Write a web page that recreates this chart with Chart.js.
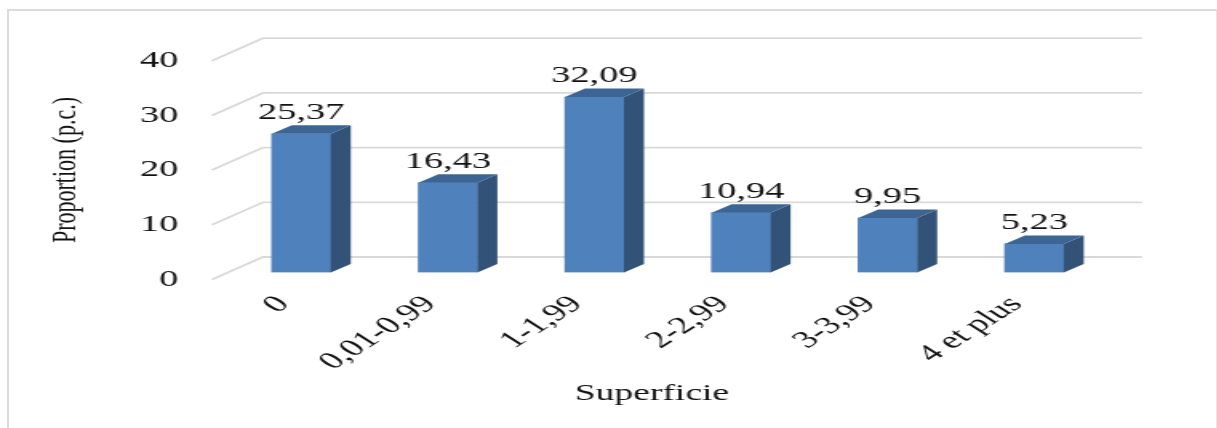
<!DOCTYPE html>
<html>
<head>
<meta charset="utf-8">
<script src="https://cdn.jsdelivr.net/npm/chart.js@4"></script>
<style>
  html, body { margin: 0; padding: 0; background: #fff; overflow: hidden; }
  #frame { position: absolute; left: 7px; top: 9px; width: 1207px; height: 440px; border: 2px solid #dcdcdc; border-right: 1px solid #e6e6e6; }
  /* the original picture is stretched sideways, text included */
  #wrap { position: absolute; left: 0; top: 0; width: 761px; height: 428px; transform-origin: 0 0; transform: scale(1.6, 1); }
</style>
</head>
<body>
<div id="frame"></div>
<div id="wrap"><canvas id="chart" width="761" height="428"></canvas></div>
<script>
const categories = ['0', '0,01-0,99', '1-1,99', '2-2,99', '3-3,99', '4 et plus'];
const proportions = [25.37, 16.43, 32.09, 10.94, 9.95, 5.23];
const yTicks = [0, 10, 20, 30, 40];
const yTitle = 'Proportion (p.c.)';
const xTitle = 'Superficie';

const stretch = 1.6;
const serif = '"Liberation Serif", serif';
const textColor = '#111111';

// Fake 3D: side and top faces, back wall grid, value labels
const fake3d = {
  id: 'fake3d',
  beforeDatasetsDraw(chart) {
    const { ctx, scales: { y } } = chart;
    ctx.save();
    ctx.strokeStyle = '#d9d9d9';
    ctx.lineWidth = 1.8;
    yTicks.forEach(v => {
      const py = y.getPixelForValue(v);
      ctx.beginPath();
      ctx.moveTo(212 / stretch, py + 7);
      ctx.lineTo(263 / stretch, py - 15.5);
      ctx.lineTo(1142 / stretch, py - 15.5);
      ctx.stroke();
    });
    ctx.restore();
  },
  afterDatasetsDraw(chart) {
    const { ctx } = chart;
    const dx = 20 / stretch, dy = 8.5;
    ctx.save();
    chart.getDatasetMeta(0).data.forEach((bar, i) => {
      const half = bar.width / 2;
      const r = bar.x + half, l = bar.x - half;
      ctx.fillStyle = '#325278';
      ctx.beginPath();
      ctx.moveTo(r, bar.y);
      ctx.lineTo(r + dx, bar.y - dy);
      ctx.lineTo(r + dx, bar.base - dy);
      ctx.lineTo(r, bar.base);
      ctx.closePath();
      ctx.fill();
      ctx.fillStyle = '#3d6594';
      ctx.beginPath();
      ctx.moveTo(l, bar.y);
      ctx.lineTo(l + dx, bar.y - dy);
      ctx.lineTo(r + dx, bar.y - dy);
      ctx.lineTo(r, bar.y);
      ctx.closePath();
      ctx.fill();
      ctx.fillStyle = textColor;
      ctx.font = '24px ' + serif;
      ctx.textAlign = 'center';
      ctx.textBaseline = 'middle';
      ctx.fillText(proportions[i].toFixed(2).replace('.', ','), bar.x, bar.y - 21);
    });
    ctx.restore();
  },
  afterDraw(chart) {
    const { ctx } = chart;
    ctx.save();
    ctx.fillStyle = textColor;
    ctx.textAlign = 'center';
    ctx.textBaseline = 'middle';
    ctx.font = '23.5px ' + serif;
    ctx.fillText(xTitle, 652 / stretch, 394);
    ctx.translate(66 / stretch, 170);
    ctx.rotate(-Math.PI / 2);
    ctx.font = '22px ' + serif;
    ctx.fillText(yTitle, 0, 0);
    ctx.restore();
  }
};

new Chart(document.getElementById('chart').getContext('2d'), {
  type: 'bar',
  data: {
    labels: categories,
    datasets: [{
      data: proportions,
      backgroundColor: '#4f81bd',
      barThickness: 59 / stretch
    }]
  },
  options: {
    responsive: false,
    animation: false,
    layout: { padding: { top: 53.7, right: 68.75, bottom: 0, left: 0 } },
    plugins: { legend: { display: false }, tooltip: { enabled: false } },
    scales: {
      x: {
        grid: { display: false },
        border: { display: false },
        afterFit(scale) { scale.height = 155.5; },
        ticks: {
          color: textColor,
          font: { family: serif, size: 24 },
          maxRotation: 45,
          minRotation: 45,
          autoSkip: false,
          padding: 10,
          labelOffset: -11
        }
      },
      y: {
        min: 0,
        max: 40,
        grid: { display: false },
        border: { display: false },
        afterFit(scale) { scale.width = 142.5; },
        afterBuildTicks(scale) { scale.ticks = yTicks.map(v => ({ value: v })); },
        ticks: {
          color: textColor,
          font: { family: serif, size: 24 },
          padding: 23,
          labelOffset: 7
        }
      }
    }
  },
  plugins: [fake3d]
});
</script>
</body>
</html>
